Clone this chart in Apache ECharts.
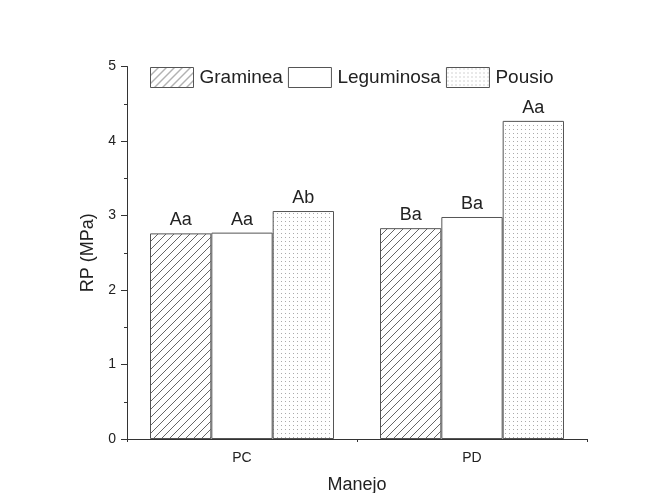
<!DOCTYPE html>
<html>
<head>
<meta charset="utf-8">
<script src="https://cdn.jsdelivr.net/npm/echarts@6/dist/echarts.min.js"></script>
<style>html,body{margin:0;padding:0;background:#fff;}#c{width:667px;height:493px;}</style>
</head>
<body>
<div id="c"></div>
<script>
const categories = ['PC', 'PD'];
const seriesNames = ['Graminea', 'Leguminosa', 'Pousio'];
const graminea = [2.76, 2.83];
const leguminosa = [2.77, 2.98];
const pousio = [3.06, 4.27];
const labelsGraminea = ['Aa', 'Ba'];
const labelsLeguminosa = ['Aa', 'Ba'];
const labelsPousio = ['Ab', 'Aa'];
const yTicks = [0, 1, 2, 3, 4, 5];

function hatchPattern() {
  const s = 8, c = document.createElement('canvas');
  c.width = s; c.height = s;
  const g = c.getContext('2d');
  g.fillStyle = '#fff'; g.fillRect(0, 0, s, s);
  g.strokeStyle = '#555'; g.lineWidth = 0.9;
  g.beginPath();
  g.moveTo(0, s); g.lineTo(s, 0);
  g.moveTo(-1, 1); g.lineTo(1, -1);
  g.moveTo(s - 1, s + 1); g.lineTo(s + 1, s - 1);
  g.stroke();
  return c;
}
function dotPattern() {
  const s = 4, c = document.createElement('canvas');
  c.width = s; c.height = s;
  const g = c.getContext('2d');
  g.fillStyle = '#fff'; g.fillRect(0, 0, s, s);
  g.fillStyle = '#aaaaaa'; g.fillRect(1, 1, 1, 1);
  return c;
}

const fills = [
  { image: hatchPattern(), repeat: 'repeat' },
  '#ffffff',
  { image: dotPattern(), repeat: 'repeat' }
];
const values = [graminea, leguminosa, pousio];
const labels = [labelsGraminea, labelsLeguminosa, labelsPousio];

const chart = echarts.init(document.getElementById('c'));
chart.setOption({
  animation: false,
  backgroundColor: '#fff',
  textStyle: { fontFamily: 'Liberation Sans, Arial, sans-serif' },
  legend: {
    left: 150, top: 67, padding: 0,
    icon: 'rect',
    itemWidth: 43, itemHeight: 20, itemGap: 5,
    textStyle: { fontSize: 19, color: '#222', fontFamily: 'Liberation Sans', padding: [0, 0, 0, 1] },
    itemStyle: { borderColor: '#555', borderWidth: 1 },
    data: seriesNames
  },
  grid: { left: 127, right: 80, top: 66.5, bottom: 54, containLabel: false, outerBoundsMode: 'none' },
  xAxis: [{
    type: 'category', data: categories,
    axisLine: { lineStyle: { color: '#333', width: 1 } },
    axisTick: { alignWithLabel: true, length: 6, inside: false, lineStyle: { color: '#333' } },
    axisLabel: { fontSize: 14, color: '#222', margin: 12 },
    name: 'Manejo', nameLocation: 'middle', nameGap: 37,
    nameTextStyle: { fontSize: 18, color: '#222' }
  }, {
    type: 'category', data: categories, position: 'bottom',
    axisLine: { show: false },
    axisTick: { show: true, length: 3, lineStyle: { color: '#333' } },
    axisLabel: { show: false }
  }],
  yAxis: {
    type: 'value', min: yTicks[0], max: yTicks[yTicks.length - 1], interval: 1,
    axisLine: { show: true, lineStyle: { color: '#333', width: 1 } },
    axisTick: { show: true, length: 6, lineStyle: { color: '#333' } },
    minorTick: { show: true, splitNumber: 2, length: 3, lineStyle: { color: '#333' } },
    splitLine: { show: false },
    axisLabel: { fontSize: 14, color: '#222', margin: 11 },
    name: 'RP (MPa)', nameLocation: 'middle', nameGap: 17,
    nameTextStyle: { fontSize: 18, color: '#222' }
  },
  series: seriesNames.map((n, i) => ({
    name: n, type: 'bar', xAxisIndex: 0,
    data: values[i],
    barGap: '0%', barCategoryGap: '20%',
    itemStyle: { color: fills[i], borderColor: '#555', borderWidth: 1 },
    label: {
      show: true, position: 'top', distance: 4,
      fontSize: 18, color: '#222',
      formatter: p => labels[i][p.dataIndex]
    }
  }))
});
</script>
</body>
</html>
